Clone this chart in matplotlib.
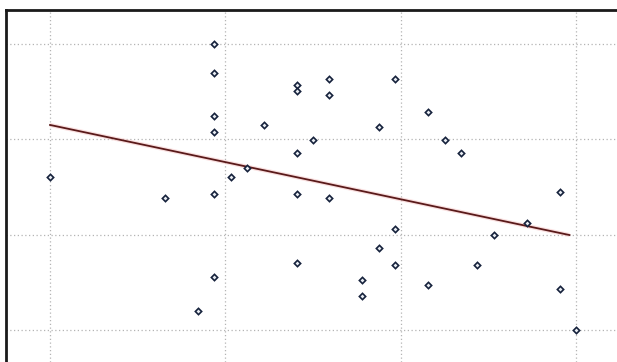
import matplotlib
matplotlib.use("Agg")
import matplotlib.pyplot as plt

# scatter values (x on integer steps, y on a 0-100 scale)
x_vals = [0, 7, 9, 10, 10, 10, 10, 10, 10, 11, 12, 13, 15, 15, 15, 15, 15,
          16, 17, 17, 17, 19, 19, 20, 20, 21, 21, 21, 23, 23, 24, 25, 26,
          27, 29, 31, 31, 32]
y_vals = [53.5, 46.2, 6.6, 100.0, 89.9, 74.8, 69.2, 47.6, 18.5, 53.5, 56.6,
          71.7, 85.7, 83.6, 61.9, 47.6, 23.4, 66.4, 87.8, 82.2, 46.2, 17.5,
          11.9, 71.0, 28.7, 87.8, 35.3, 22.7, 76.2, 15.7, 66.4, 61.9, 22.7,
          33.2, 37.4, 48.3, 14.3, 0.0]

# trend line end points
trend_x = [0, 31.6]
trend_y = [71.7, 33.2]

x_grid = [0, 32 / 3, 64 / 3, 32]
y_grid = [0, 100 / 3, 200 / 3, 100]

fig = plt.figure(figsize=(6.17, 3.62), dpi=100)
ax = fig.add_axes([6 / 617, 0, 1 - 6 / 617, 1 - 10 / 362])

ax.plot(trend_x, trend_y, color="#f4c0c0", lw=3.0, alpha=0.5, solid_capstyle="butt", zorder=2)
ax.plot(trend_x, trend_y, color="#5a1a1a", lw=1.3, zorder=3)
ax.plot(x_vals, y_vals, linestyle="none", marker="D", ms=3.2,
        mfc="#e8ecf2", mec="#16223c", mew=1.2, zorder=4)

ax.set_xlim(-2.68, 34.49)
ax.set_ylim(-11.2, 111.9)
ax.set_xticks(x_grid)
ax.set_yticks(y_grid)
ax.tick_params(length=0, labelbottom=False, labelleft=False)
ax.grid(True, color="#b4b4b4", linestyle=(0, (1, 2)), lw=0.9)
ax.set_axisbelow(True)

for side in ("right", "bottom"):
    ax.spines[side].set_visible(False)
for side in ("left", "top"):
    ax.spines[side].set_color("#1a1a1a")
    ax.spines[side].set_linewidth(2.0)

fig.savefig("out.png", dpi=100)
